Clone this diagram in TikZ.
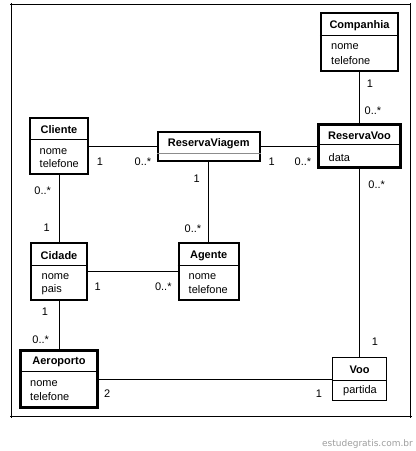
\documentclass[tikz,border=0pt]{standalone}
\usepackage{fontspec}
\setmainfont{Liberation Sans}
\newfontfamily\wmfont{DejaVu Sans}
\begin{document}
\begin{tikzpicture}[x=1pt,y=-1pt,
  cls/.style={draw=black, fill=white, inner sep=0pt, line width=#1},
  cls/.default=2pt,
  sepline/.style={draw=black, line width=1pt},
  graysep/.style={draw=black!45, line width=1pt},
  ttl/.style={font=\fontsize{11}{13}\selectfont\bfseries, inner sep=0pt},
  attr/.style={font=\fontsize{11}{13}\selectfont, inner sep=0pt, anchor=west},
  mult/.style={font=\fontsize{11}{13}\selectfont, inner sep=0pt},
  assoc/.style={draw=black, line width=1pt},
  framel/.style={draw=black, line width=1.2pt}
]
\useasboundingbox (0,0) rectangle (416,451);
\fill[white] (0,0) rectangle (416,451);

% frame
\draw[framel] (10,4.3) -- (411,4.3);
\draw[framel] (11.5,3) -- (11.5,417.5);
\draw[framel] (10,416.3) -- (411.5,416.3);
\draw[framel] (410.5,3) -- (410.5,417.5);

% classes
\node[cls=2pt, minimum width=77.3pt, minimum height=57.4pt] (companhia) at (359.5,42) {};
\node[cls=2.8pt, minimum width=81.7pt, minimum height=43.7pt] (reservavoo) at (359.5,146) {};
\node[cls=2pt, minimum width=101.6pt, minimum height=29pt] (reservaviagem) at (208.7,146) {};
\node[cls=2pt, minimum width=58pt, minimum height=55.7pt] (cliente) at (59,146) {};
\node[cls=2pt, minimum width=55.3pt, minimum height=57.5pt] (cidade) at (59,271.5) {};
\node[cls=2pt, minimum width=60pt, minimum height=57.5pt] (agente) at (208.7,271.5) {};
\node[cls=2.8pt, minimum width=76.6pt, minimum height=57.7pt] (aeroporto) at (59,379) {};
\node[cls=1.6pt, minimum width=54.2pt, minimum height=42.8pt] (voo) at (359.5,379) {};

% separators
\draw[sepline] (companhia.west |- 0,35) -- (companhia.east |- 0,35);
\draw[sepline] (reservavoo.west |- 0,144) -- (reservavoo.east |- 0,144);
\draw[graysep] (reservaviagem.west |- 0,153.3) -- (reservaviagem.east |- 0,153.3);
\draw[sepline] (cliente.west |- 0,139.3) -- (cliente.east |- 0,139.3);
\draw[sepline] (cidade.west |- 0,265.5) -- (cidade.east |- 0,265.5);
\draw[sepline] (agente.west |- 0,265) -- (agente.east |- 0,265);
\draw[sepline] (aeroporto.west |- 0,371) -- (aeroporto.east |- 0,371);
\draw[sepline] (voo.west |- 0,380.5) -- (voo.east |- 0,380.5);

% titles
\node[ttl] (tcompanhia) at (359.5,25.7) {Companhia};
\node[ttl] (treservavoo) at (359.5,136.2) {ReservaVoo};
\node[ttl] (treservaviagem) at (208.7,143.5) {ReservaViagem};
\node[ttl] (tcliente) at (59,130) {Cliente};
\node[ttl] (tcidade) at (59,255.7) {Cidade};
\node[ttl] (tagente) at (208.7,255.7) {Agente};
\node[ttl] (taeroporto) at (59,361.5) {Aeroporto};
\node[ttl] (tvoo) at (359.5,369.3) {Voo};

% attributes
\node[attr] (a1) at (331,47) {nome};
\node[attr] (a2) at (331,60.5) {telefone};
\node[attr] (a3) at (328.5,157.3) {data};
\node[attr] (a4) at (39.5,151.7) {nome};
\node[attr] (a5) at (39.5,164) {telefone};
\node[attr] (a6) at (41.5,276.7) {nome};
\node[attr] (a7) at (41.5,290) {pais};
\node[attr] (a8) at (188.5,276.7) {nome};
\node[attr] (a9) at (188.5,290) {telefone};
\node[attr] (a10) at (30,383.3) {nome};
\node[attr] (a11) at (30,396.7) {telefone};
\node[mult] (a12) at (360,390.5) {partida};

% associations
\draw[assoc] (companhia) -- (reservavoo);
\draw[assoc] (cliente) -- (reservaviagem);
\draw[assoc] (reservaviagem) -- (reservavoo);
\draw[assoc] (cliente) -- (cidade);
\draw[assoc] (reservaviagem) -- (agente);
\draw[assoc] (reservavoo) -- (voo);
\draw[assoc] (cidade) -- (agente);
\draw[assoc] (cidade) -- (aeroporto);
\draw[assoc] (aeroporto) -- (voo);

% multiplicities
\node[mult] (m1) at (370,84) {1};
\node[mult] (m2) at (373,111) {0..*};
\node[mult] (m3) at (100,162) {1};
\node[mult] (m4) at (143,162) {0..*};
\node[mult] (m5) at (271.7,162) {1};
\node[mult] (m6) at (303,162) {0..*};
\node[mult] (m7) at (42.7,190.7) {0..*};
\node[mult] (m8) at (46.7,227.7) {1};
\node[mult] (m9) at (196.7,178.3) {1};
\node[mult] (m10) at (193,228.3) {0..*};
\node[mult] (m11) at (376.7,184.3) {0..*};
\node[mult] (m12) at (97.7,286.7) {1};
\node[mult] (m13) at (163.3,286.7) {0..*};
\node[mult] (m14) at (45,311.7) {1};
\node[mult] (m15) at (40.7,339.3) {0..*};
\node[mult] (m16) at (375,341.7) {1};
\node[mult] (m17) at (107.3,394) {2};
\node[mult] (m18) at (319,393.3) {1};

% watermark
\node[font=\wmfont\fontsize{9}{11}\selectfont, text=black!38, inner sep=0pt, anchor=east] (wm) at (413,444) {estudegratis.com.br};
\end{tikzpicture}
\end{document}
